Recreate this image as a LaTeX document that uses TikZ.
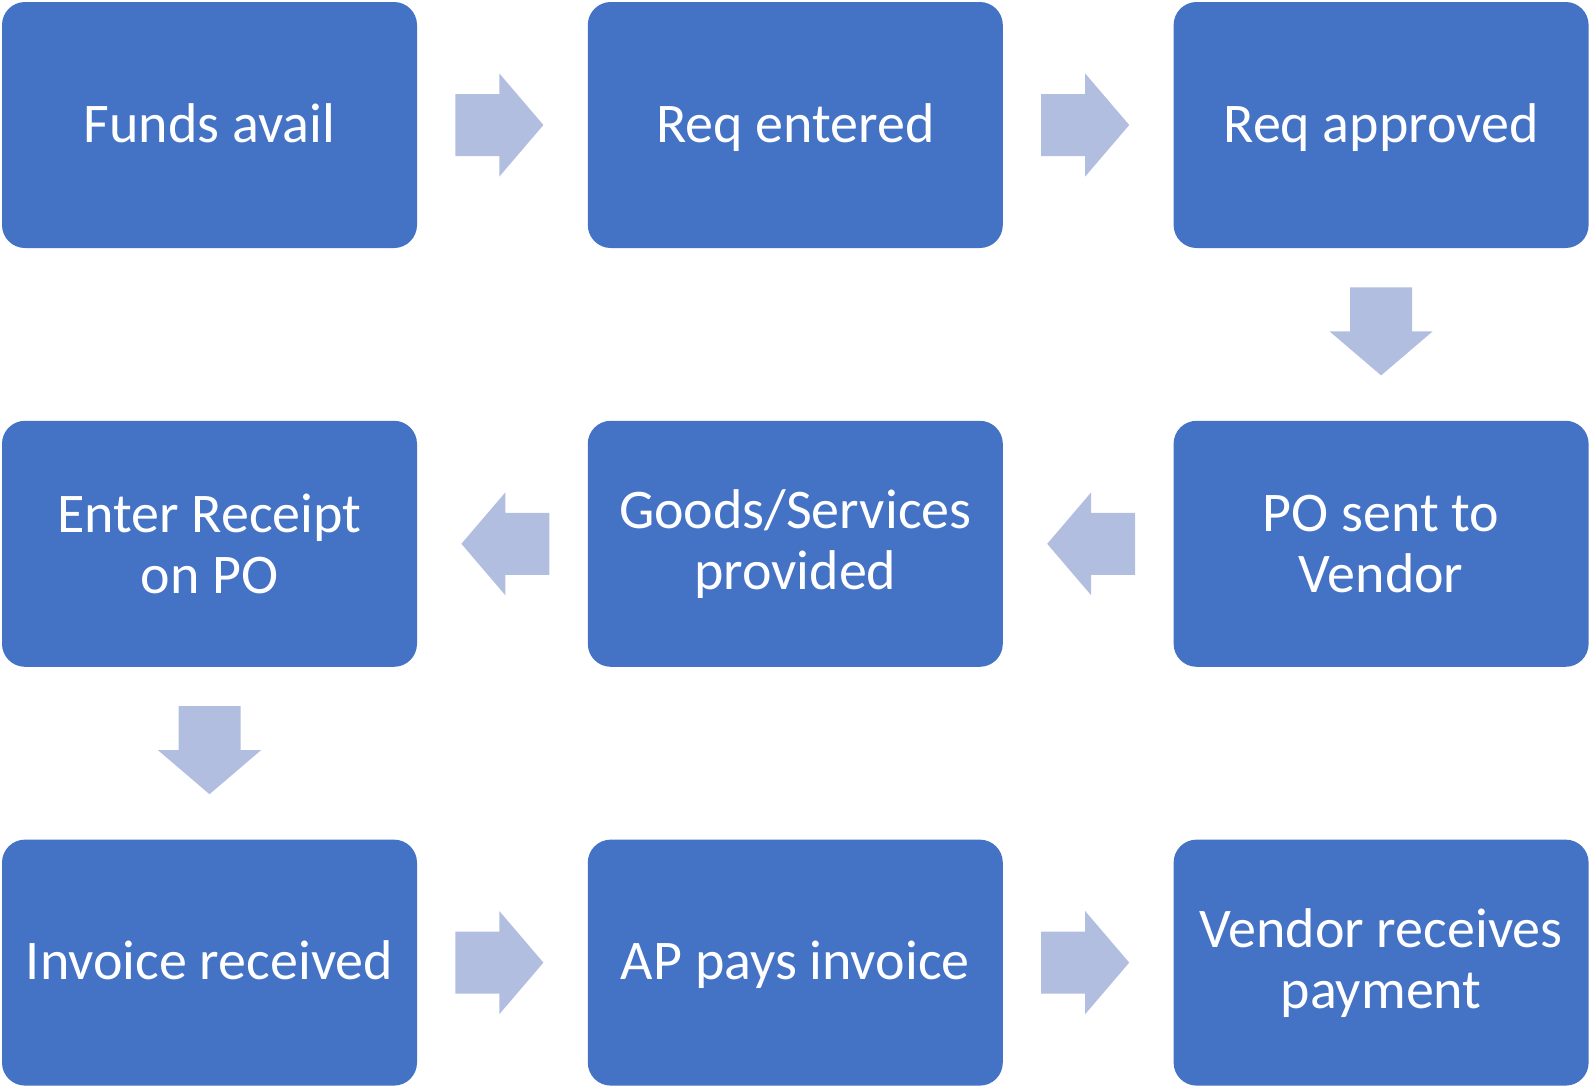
\documentclass[tikz,border=0pt]{standalone}
\usepackage{fontspec}
\setmainfont{Carlito}
\usetikzlibrary{positioning,calc}
\definecolor{boxblue}{RGB}{68,114,196}
\definecolor{arrowblue}{RGB}{178,190,224}

\begin{document}
\begin{tikzpicture}[x=0.5pt,y=-0.5pt,node distance=86pt and 85pt,
    stepbox/.style={rectangle,rounded corners=11.5pt,fill=boxblue,text=white,
      minimum width=207.5pt,minimum height=123pt,inner sep=0pt,align=center,
      font=\fontsize{28}{30.5}\selectfont},
    oneline/.style={text height=20pt,text depth=3pt},
    flowarrow/.pic={\fill[arrowblue] (-47,-31) -- (-3,-31) -- (-3,-51.5) -- (41,0)
      -- (-3,51.5) -- (-3,31) -- (-47,31) -- cycle;}]
  \useasboundingbox (0,0) rectangle (1590,1087);

  \node[stepbox,oneline] (funds) at (209.5,125) {Funds avail};
  \node[stepbox,oneline] (reqent)  [right=of funds]  {Req entered};
  \node[stepbox,oneline] (reqapp)  [right=of reqent] {Req approved};
  \node[stepbox] (posent)  [below=of reqapp] {PO sent to\\Vendor};
  \node[stepbox] (goods)   [left=of posent]  {Goods/Services\\provided};
  \node[stepbox] (receipt) [left=of goods]   {Enter Receipt\\on PO};
  \node[stepbox,oneline] (invoice) [below=of receipt] {Invoice received};
  \node[stepbox,oneline] (appays)  [right=of invoice] {AP pays invoice};
  \node[stepbox] (payment) [right=of appays]  {Vendor receives\\payment};

  % block arrows between the steps
  \pic at ($(funds)!0.5!(reqent)$) {flowarrow};
  \pic at ($(reqent)!0.5!(reqapp)$) {flowarrow};
  \pic[rotate=-90] at ($(reqapp)!0.5!(posent)$) {flowarrow};
  \pic[rotate=180] at ($(posent)!0.5!(goods)$) {flowarrow};
  \pic[rotate=180] at ($(goods)!0.5!(receipt)$) {flowarrow};
  \pic[rotate=-90] at ($(receipt)!0.5!(invoice)$) {flowarrow};
  \pic at ($(invoice)!0.5!(appays)$) {flowarrow};
  \pic at ($(appays)!0.5!(payment)$) {flowarrow};
\end{tikzpicture}
\end{document}
